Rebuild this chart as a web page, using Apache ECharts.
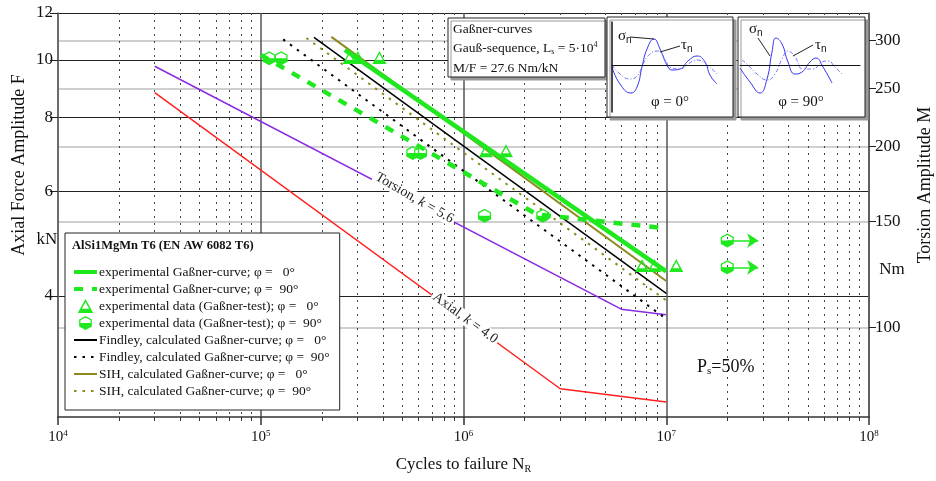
<!DOCTYPE html>
<html>
<head>
<meta charset="utf-8">
<script src="https://cdn.jsdelivr.net/npm/echarts@6/dist/echarts.min.js"></script>
<style>html,body{margin:0;padding:0;background:#fff}#main{width:936px;height:481px}</style>
</head>
<body>
<div id="main"></div>
<script>
// fonts and colours
const FONT = 'Liberation Serif';
const GREEN = '#1fe81f';
const OLIVE = '#8c8a1c';

// axes (N = cycles, F = axial force amplitude in kN, M = torsion in Nm)
const xRange = [1e4, 1e8];
const yRangeLeft = [2.5, 12];
const yRangeRight = [70.9, 333.6];
const yTicksLeft = [4, 6, 8, 10, 12];
const yTicksRight = [100, 150, 200, 250, 300];

// reference curves
const axialN = [3.0e4, 3.0e6, 1.0e7];
const axialF = [8.81, 2.79, 2.65];
const torsionN = [3.0e4, 6.0e6, 1.0e7];
const torsionF = [9.76, 3.80, 3.72];

// experimental Gassner curves
const exp0N = [2.6e5, 1.0e7];
const exp0F = [10.4, 4.4];
const exp90N = [1.0e5, 2.3e6, 1.0e7];
const exp90F = [10.2, 5.49, 5.20];

// calculated curves
const findley0N = [1.83e5, 1.0e7];
const findley0F = [10.92, 4.04];
const findley90N = [1.29e5, 1.0e7];
const findley90F = [10.83, 3.66];
const sih0N = [2.23e5, 1.0e7];
const sih0F = [10.94, 4.24];
const sih90N = [1.68e5, 1.0e7];
const sih90F = [10.89, 3.93];

// test points
const test0N = [2.74e5, 3.01e5, 3.85e5, 1.29e6, 1.62e6, 7.6e6, 8.75e6, 1.12e7];
const test0F = [10.1, 10.1, 10.1, 7.03, 7.03, 4.5, 4.5, 4.5];
const test90N = [1.10e5, 1.26e5, 5.62e5, 6.14e5, 1.27e6, 2.46e6];
const test90F = [10.07, 10.07, 6.97, 6.97, 5.46, 5.46];
const runoutN = [2.0e7, 2.0e7];
const runoutF = [4.96, 4.47];
const arrowFactor = 1.42;

// annotation anchors [N, F]
const torsionLabelAt = [5.73e5, 5.85];
const axialLabelAt = [1.02e6, 3.67];

// inset sketches (px offsets from the inset baseline)
const inset0SigmaX = [0, 8, 19, 25, 30, 35, 42, 48, 55, 60, 68, 76, 85, 93, 98, 105];
const inset0SigmaY = [-2, -19, -28, -22, -2, 16, 26, 16, 0, -5, -4, 4, 9, 3, -10, -19];
const inset0TauX = [0, 8, 18, 26, 31, 38, 46, 53, 58, 68, 76, 85, 95, 106];
const inset0TauY = [0, -9, -14, -10, 1, 11, 14, 6, -2, -4, 1, 5, 0, -10];
const inset90SigmaX = [0, 10, 20, 27, 32, 36, 42, 48, 55, 62, 70, 76, 83, 92];
const inset90SigmaY = [-3, -17, -28, -14, 13, 27, 21, 3, -9, -7, 3, 7, -2, -18];
const inset90TauX = [2, 8, 17, 27, 35, 42, 48, 55, 63, 73, 82, 88, 95, 103];
const inset90TauY = [5, 0, -9, -15, -9, 6, 14, 8, -4, -4, 3, 4, -2, -10];

const lg = Math.log10;
function pts(ns, fs) { return ns.map((n, i) => [lg(n), lg(fs[i])]); }
function zip(xs, ys) { return xs.map((x, i) => [x, ys[i]]); }

const minorX = [];
for (let d = lg(xRange[0]); d < lg(xRange[1]); d++) {
  for (let k = 2; k <= 9; k++) minorX.push(d + lg(k));
}

const triPath = 'path://M10 0 L20 18 L0 18 Z M10 4 L5.3 12.5 L14.7 12.5 Z';
const hexPath = 'path://M10 0 L20 5.5 L20 16.5 L10 22 L0 16.5 L0 5.5 Z M10 2.4 L2 6.7 L2 11 L18 11 L18 6.7 Z';

const names = [
  'experimental Gaßner-curve; φ =   0°',
  'experimental Gaßner-curve; φ =  90°',
  'experimental data (Gaßner-test); φ =   0°',
  'experimental data (Gaßner-test); φ =  90°',
  'Findley, calculated Gaßner-curve; φ =   0°',
  'Findley, calculated Gaßner-curve; φ =  90°',
  'SIH, calculated Gaßner-curve; φ =   0°',
  'SIH, calculated Gaßner-curve; φ =  90°'
];
const scatterNames = [names[2], names[3]];
const thickNames = [names[0], names[1]];

function lineSeries(name, data, color, width, type, z) {
  return {
    name: name, type: 'line', data: data, symbol: 'none', z: z || 2,
    lineStyle: { color: color, width: width, type: type || 'solid' },
    itemStyle: { color: color }, animation: false
  };
}

function legendItem(n) {
  if (scatterNames.indexOf(n) >= 0) return { name: n };
  // line entries hide the legend marker so only the line style shows
  const item = { name: n, itemStyle: { opacity: 0 } };
  if (thickNames.indexOf(n) >= 0) item.lineStyle = { width: 4 };
  return item;
}

const chart = echarts.init(document.getElementById('main'));

const labelRich = {
  n: { fontFamily: FONT, fontSize: 14, color: '#222' },
  i: { fontFamily: FONT, fontSize: 14, color: '#222', fontStyle: 'italic' }
};

const series = [
  Object.assign(lineSeries('Torsion', pts(torsionN, torsionF), '#8a2be2', 1.5), {
    markPoint: {
      symbol: 'rect', symbolSize: 1, itemStyle: { color: 'rgba(0,0,0,0)' },
      label: { show: true, position: 'inside', rotate: -30, backgroundColor: '#fff', padding: [0, 2],
        formatter: '{n|Torsion, }{i|k}{n| = 5.6}', rich: labelRich },
      data: [{ coord: [lg(torsionLabelAt[0]), lg(torsionLabelAt[1])] }]
    }
  }),
  Object.assign(lineSeries('Axial', pts(axialN, axialF), '#ff2020', 1.5), {
    markPoint: {
      symbol: 'rect', symbolSize: 1, itemStyle: { color: 'rgba(0,0,0,0)' },
      label: { show: true, position: 'inside', rotate: -36, backgroundColor: '#fff', padding: [0, 2],
        formatter: '{n|Axial, }{i|k}{n| = 4.0}', rich: labelRich },
      data: [{ coord: [lg(axialLabelAt[0]), lg(axialLabelAt[1])] }]
    }
  }),
  lineSeries(names[4], pts(findley0N, findley0F), '#000', 1.5),
  lineSeries(names[5], pts(findley90N, findley90F), '#000', 2, [2.5, 6]),
  lineSeries(names[6], pts(sih0N, sih0F), OLIVE, 2),
  lineSeries(names[7], pts(sih90N, sih90F), OLIVE, 2, [2.5, 6]),
  lineSeries(names[0], pts(exp0N, exp0F), GREEN, 4.5, 'solid', 3),
  lineSeries(names[1], pts(exp90N, exp90F), GREEN, 4.5, [9, 9], 3),
  {
    type: 'lines', coordinateSystem: 'cartesian2d', symbol: ['none', 'arrow'], symbolSize: 11, z: 3,
    lineStyle: { color: GREEN, width: 1.5, opacity: 1, curveness: 0 }, animation: false,
    data: runoutN.map((n, i) => ({ coords: [[lg(n), lg(runoutF[i])], [lg(n * arrowFactor), lg(runoutF[i])]] }))
  },
  {
    name: names[2], type: 'scatter', data: pts(test0N, test0F), symbol: triPath, symbolSize: [14, 13],
    itemStyle: { color: GREEN, opacity: 1 }, z: 4, animation: false
  },
  {
    name: names[3], type: 'scatter', data: pts(test90N.concat(runoutN), test90F.concat(runoutF)),
    symbol: hexPath, symbolSize: [13, 14], itemStyle: { color: GREEN, opacity: 1 }, z: 4, animation: false
  },
  // inset sketches
  { type: 'line', xAxisIndex: 2, yAxisIndex: 2, data: zip(inset0SigmaX, inset0SigmaY), smooth: 0.5, symbol: 'none',
    lineStyle: { color: '#3434f0', width: 1 }, z: 10, animation: false },
  { type: 'line', xAxisIndex: 2, yAxisIndex: 2, data: zip(inset0TauX, inset0TauY), smooth: 0.5, symbol: 'none',
    lineStyle: { color: '#7070ff', width: 1, type: [4, 2, 1, 2] }, z: 10, animation: false },
  { type: 'line', xAxisIndex: 3, yAxisIndex: 3, data: zip(inset90SigmaX, inset90SigmaY), smooth: 0.5, symbol: 'none',
    lineStyle: { color: '#3434f0', width: 1 }, z: 10, animation: false },
  { type: 'line', xAxisIndex: 3, yAxisIndex: 3, data: zip(inset90TauX, inset90TauY), smooth: 0.5, symbol: 'none',
    lineStyle: { color: '#7070ff', width: 1, type: [4, 2, 1, 2] }, z: 10, animation: false }
];

function txt(x, y, text, size, extra) {
  return {
    type: 'text', x: x, y: y, z: 20,
    style: Object.assign({ text: text, fill: '#111', font: size + 'px "' + FONT + '"', textVerticalAlign: 'middle' }, extra || {})
  };
}
function box(x, y, w, h) {
  return { type: 'rect', z: 5, shape: { x: x, y: y, width: w, height: h },
    style: { fill: '#fff', stroke: '#222', lineWidth: 1, shadowColor: '#999', shadowOffsetX: 3, shadowOffsetY: 3 } };
}
function leader(x1, y1, x2, y2) {
  return { type: 'line', z: 20, shape: { x1: x1, y1: y1, x2: x2, y2: y2 }, style: { stroke: '#222', lineWidth: 1 } };
}
const subRich = {
  a: { fontFamily: FONT, fontSize: 15, color: '#111' },
  b: { fontFamily: 'Liberation Sans', fontSize: 10, color: '#111', verticalAlign: 'bottom', padding: [8, 0, 0, 0] }
};
const boxRich = {
  t: { fontFamily: FONT, fontSize: 13.5, color: '#111' },
  s: { fontFamily: FONT, fontSize: 8, color: '#111', padding: [7, 0, 0, 0] },
  e: { fontFamily: FONT, fontSize: 8, color: '#111', padding: [0, 0, 7, 0] }
};

const option = {
  backgroundColor: '#fff',
  animation: false,
  grid: [
    { left: 58, right: 67, top: 13, bottom: 64 },
    { left: 612, top: 22, width: 121, height: 90 },
    { left: 740, top: 22, width: 120, height: 90 }
  ],
  legend: {
    data: names.map(legendItem),
    orient: 'vertical', left: 65, top: 233, padding: [32, 10, 12, 7],
    itemGap: 3, itemWidth: 23, itemHeight: 14, selectedMode: false,
    backgroundColor: '#fff', borderColor: '#222', borderWidth: 1, z: 6,
    textStyle: { fontFamily: FONT, fontSize: 13.5, color: '#111', padding: [0, 0, 0, -3] }
  },
  xAxis: [
    {
      gridIndex: 0, type: 'value', min: lg(xRange[0]), max: lg(xRange[1]), interval: 1, position: 'bottom',
      axisLine: { show: true, onZero: false, lineStyle: { color: '#333', width: 1.5 } },
      axisTick: { show: true, length: 8, lineStyle: { color: '#333', width: 1.5 } },
      axisLabel: {
        margin: 12, formatter: v => '{b|10}{e|' + Math.round(v) + '}',
        rich: {
          b: { fontFamily: FONT, fontSize: 15, color: '#111' },
          e: { fontFamily: FONT, fontSize: 9, color: '#111', padding: [0, 0, 8, 0] }
        }
      },
      splitLine: { show: true, lineStyle: { color: '#555', width: 1.5 } },
      name: '{t|Cycles to failure N}{s|R}', nameLocation: 'middle', nameGap: 38,
      nameTextStyle: { rich: {
        t: { fontFamily: FONT, fontSize: 17, color: '#111' },
        s: { fontFamily: FONT, fontSize: 10, color: '#111', padding: [9, 0, 0, 0] }
      } }
    },
    {
      gridIndex: 0, type: 'value', min: lg(xRange[0]), max: lg(xRange[1]), position: 'bottom',
      axisLine: { show: false },
      axisTick: { show: true, length: 4, customValues: minorX, lineStyle: { color: '#333', width: 1 } },
      axisLabel: { show: false },
      splitLine: { show: true, lineStyle: { color: '#444', width: 1, type: [2, 5] } }
    },
    {
      gridIndex: 1, type: 'value', min: 0, max: 121, z: 12,
      axisLine: { show: true, onZero: true, lineStyle: { color: '#111', width: 1 } },
      axisTick: { show: false }, axisLabel: { show: false }, splitLine: { show: false }
    },
    {
      gridIndex: 2, type: 'value', min: 0, max: 120, z: 12,
      axisLine: { show: true, onZero: true, lineStyle: { color: '#111', width: 1 } },
      axisTick: { show: false }, axisLabel: { show: false }, splitLine: { show: false }
    }
  ],
  yAxis: [
    {
      gridIndex: 0, type: 'value', position: 'left', min: lg(yRangeLeft[0]), max: lg(yRangeLeft[1]),
      axisLine: { show: true, lineStyle: { color: '#666', width: 1.5 } },
      axisTick: { show: true, length: 8, customValues: yTicksLeft.map(lg), lineStyle: { color: '#222', width: 1 } },
      axisLabel: { customValues: yTicksLeft.map(lg), formatter: v => String(Math.round(Math.pow(10, v))),
        fontFamily: FONT, fontSize: 17, color: '#111', margin: 5 },
      splitLine: { show: true, lineStyle: { color: '#222', width: 1 } }
    },
    {
      gridIndex: 0, type: 'value', position: 'right', min: lg(yRangeRight[0]), max: lg(yRangeRight[1]),
      axisLine: { show: true, lineStyle: { color: '#555', width: 1.5 } },
      axisTick: { show: true, length: 7, customValues: yTicksRight.map(lg), lineStyle: { color: '#222', width: 1 } },
      axisLabel: { customValues: yTicksRight.map(lg), formatter: v => String(Math.round(Math.pow(10, v))),
        fontFamily: FONT, fontSize: 17, color: '#111', margin: 6 },
      splitLine: { show: true, lineStyle: { color: '#cfcfcf', width: 2 } }
    },
    {
      gridIndex: 1, type: 'value', min: -47, max: 43, z: 12,
      axisLine: { show: true, lineStyle: { color: '#111', width: 1.5 } },
      axisTick: { show: false }, axisLabel: { show: false }, splitLine: { show: false }
    },
    {
      gridIndex: 2, type: 'value', min: -47, max: 43, show: false
    }
  ],
  series: series,
  graphic: [
    box(448, 18, 157, 59),
    box(607, 17, 126, 100),
    box(738, 17, 127, 100),
    txt(453, 29, '{t|Gaßner-curves}', 13.5, { rich: boxRich }),
    txt(453, 48, '{t|Gauß-sequence, L}{s|s}{t| = 5·10}{e|4}', 13.5, { rich: boxRich }),
    txt(453, 68, '{t|M/F = 27.6 Nm/kN}', 13.5, { rich: boxRich }),
    txt(618, 36, '{a|σ}{b|n}', 15, { rich: subRich }),
    txt(681, 45, '{a|τ}{b|n}', 15, { rich: subRich }),
    txt(749, 29, '{a|σ}{b|n}', 15, { rich: subRich }),
    txt(815, 45, '{a|τ}{b|n}', 15, { rich: subRich }),
    leader(630, 37, 654, 39),
    leader(680, 46, 660, 52),
    leader(758, 38, 770, 56),
    leader(813, 45, 793, 56),
    txt(670, 102, 'φ = 0°', 15, { textAlign: 'center' }),
    txt(801, 102, 'φ = 90°', 15, { textAlign: 'center' }),
    txt(72, 246, 'AlSi1MgMn T6 (EN AW 6082 T6)', 12.5, { font: 'bold 12.5px "' + FONT + '"' }),
    Object.assign(txt(19, 165, 'Axial Force Amplitude F', 18, { textAlign: 'center' }), { rotation: Math.PI / 2 }),
    txt(47, 240, 'kN', 17, { textAlign: 'center' }),
    Object.assign(txt(925, 185, 'Torsion Amplitude M', 18, { textAlign: 'center' }), { rotation: Math.PI / 2 }),
    txt(892, 270, 'Nm', 17, { textAlign: 'center' }),
    txt(697, 367, '{p|P}{s|s}{p|=50%}', 18, { rich: {
      p: { fontFamily: FONT, fontSize: 18, color: '#111' },
      s: { fontFamily: FONT, fontSize: 11, color: '#111', padding: [9, 0, 0, 0] }
    } })
  ]
};

chart.setOption(option);
</script>
</body>
</html>
